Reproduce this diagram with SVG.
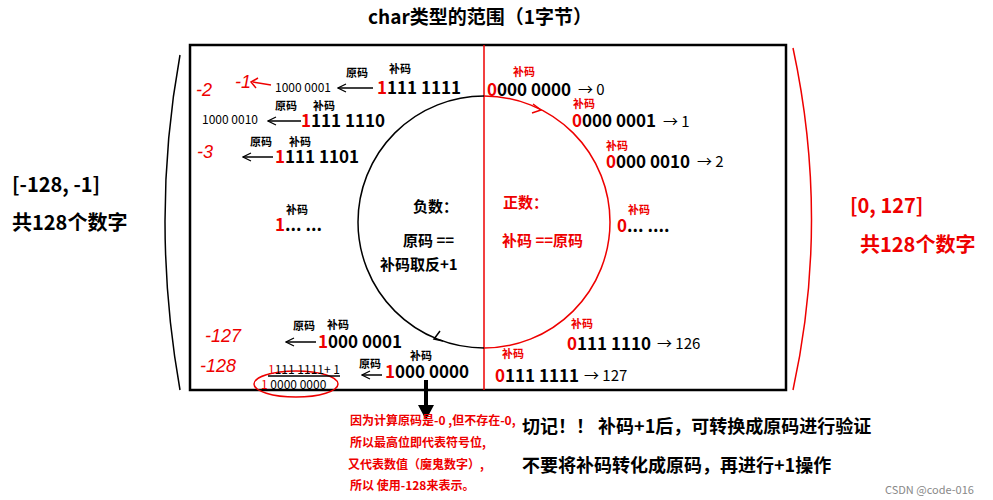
<svg xmlns="http://www.w3.org/2000/svg" width="993" height="500" viewBox="0 0 993 500">
<defs>
<style>
text{font-family:"Microsoft YaHei","Noto Sans CJK SC","Liberation Sans",sans-serif;font-weight:bold}
.b{fill:#000}.r{fill:#e00}
.s{font-size:11px}.m{font-size:12px}.n{font-size:17px}.h{font-family:"Liberation Sans",sans-serif;font-weight:normal;font-style:italic;font-size:18px}
.la{stroke:#000;stroke-width:1.5;fill:none}
.lr{stroke:#e00;stroke-width:1.5;fill:none}
</style>
<marker id="ah" markerWidth="10" markerHeight="10" refX="9" refY="5" orient="auto" markerUnits="userSpaceOnUse"><path d="M1,1 L9,5 L1,9" fill="none" stroke="#000" stroke-width="1.2"/></marker>
</defs>
<rect width="993" height="500" fill="#fff"/>
<text x="480" y="24" text-anchor="middle" class="b" font-size="19">char类型的范围（1字节）</text>
<g id="frame">
<rect x="190" y="45" width="596" height="345" fill="none" stroke="#000" stroke-width="2.5"/>
<line x1="484" y1="45" x2="484" y2="390" stroke="#e00" stroke-width="1.5"/>
<path d="M484,96 A126,126 0 0 0 484,348" class="la" stroke-width="2"/>
<path d="M484,96 A126,126 0 0 1 484,348" class="lr" stroke-width="2"/>
</g>
<g id="brackets">
<path d="M180,55 Q150,220 180,390" class="la" stroke-width="2"/>
<path d="M793,48 Q830,220 793,390" class="lr" stroke-width="2"/>
</g>
<g id="left-label">
<text x="12" y="192" class="b" font-size="20">[-128, -1]</text>
<text x="12" y="230" class="b" font-size="20">共128个数字</text>
</g>
<g id="right-label">
<text x="850" y="213" class="r" font-size="20">[0, 127]</text>
<text x="860" y="252" class="r" font-size="20">共128个数字</text>
</g>
<g id="center">
<text x="413" y="212" class="b" font-size="15">负数：</text>
<text x="403" y="246" class="b" font-size="15">原码 ==</text>
<text x="380" y="270" class="b" font-size="15">补码取反+1</text>
<text x="503" y="208" class="r" font-size="15">正数：</text>
<text x="502" y="246" class="r" font-size="15">补码 ==原码</text>
</g>
<g id="connectors">
<line x1="373" y1="88" x2="338" y2="88" class="la" marker-end="url(#ah)"/>
<line x1="301" y1="121" x2="268" y2="121" class="la" marker-end="url(#ah)"/>
<line x1="273" y1="157" x2="243" y2="157" class="la" marker-end="url(#ah)"/>
<line x1="271" y1="85" x2="253" y2="82" class="lr"/>
<path d="M258,78 L251,82 L256,88" class="lr"/>
<line x1="316" y1="342" x2="286" y2="342" class="la" marker-end="url(#ah)"/>
<line x1="382" y1="375" x2="362" y2="375" class="la" marker-end="url(#ah)"/>
<path d="M440,331 L434,339 L443,341" class="la"/>
<path d="M533,104 L541,110 L532,113" class="lr"/>
<path d="M424,380 L424,405 L418,405 L426,420 L434,405 L428,405 L428,380 Z" fill="#000"/>
<ellipse cx="296" cy="384" rx="42" ry="13" class="lr"/>
<line x1="268" y1="376" x2="340" y2="376" class="la" stroke-width="1"/>
</g>
<g id="neg-rows">
<text x="235" y="88" class="r h" font-size="16">-1</text>
<text x="275" y="92" class="b m" style="font-weight:normal">1000 0001</text>
<text x="346" y="77" class="b s">原码</text>
<text x="389" y="73" class="b s">补码</text>
<text x="377" y="94" class="n b"><tspan class="r">1</tspan>111 1111</text>
<text x="196" y="96" class="r h">-2</text>
<text x="202" y="124" class="b m" style="font-weight:normal">1000 0010</text>
<text x="275" y="110" class="b s">原码</text>
<text x="313" y="110" class="b s">补码</text>
<text x="301" y="127" class="n b"><tspan class="r">1</tspan>111 1110</text>
<text x="197" y="158" class="r h">-3</text>
<text x="250" y="146" class="b s">原码</text>
<text x="289" y="146" class="b s">补码</text>
<text x="275" y="163" class="n b"><tspan class="r">1</tspan>111 1101</text>
<text x="286" y="214" class="b s">补码</text>
<text x="275" y="231" class="n b"><tspan class="r">1</tspan>... ...</text>
<text x="205" y="342" class="r h" font-size="22">-127</text>
<text x="293" y="330" class="b s">原码</text>
<text x="327" y="329" class="b s">补码</text>
<text x="318" y="348" class="n b"><tspan class="r">1</tspan>000 0001</text>
<text x="200" y="372" class="r h">-128</text>
<text x="268" y="374" class="b m" style="font-weight:normal"><tspan class="r">1</tspan>111 1111+ 1</text>
<text x="261" y="389" class="b m" style="font-weight:normal"><tspan class="r">1</tspan> 0000 0000</text>
<text x="359" y="368" class="b s">原码</text>
<text x="410" y="360" class="b s">补码</text>
<text x="385" y="378" class="n b"><tspan class="r">1</tspan>000 0000</text>
</g>
<g id="pos-rows">
<text x="513" y="76" class="r s">补码</text>
<text x="487" y="96" class="n b"><tspan class="r">0</tspan>000 0000</text>
<text x="578" y="95" class="b" font-size="15" style="font-weight:normal">→ 0</text>
<text x="573" y="108" class="r s">补码</text>
<text x="572" y="127" class="n b"><tspan class="r">0</tspan>000 0001</text>
<text x="663" y="127" class="b" font-size="15" style="font-weight:normal">→ 1</text>
<text x="606" y="150" class="r s">补码</text>
<text x="606" y="168" class="n b"><tspan class="r">0</tspan>000 0010</text>
<text x="697" y="167" class="b" font-size="15" style="font-weight:normal">→ 2</text>
<text x="628" y="214" class="r s">补码</text>
<text x="617" y="232" class="n b"><tspan class="r">0</tspan>... ....</text>
<text x="571" y="328" class="r s">补码</text>
<text x="567" y="350" class="n b"><tspan class="r">0</tspan>111 1110</text>
<text x="657" y="349" class="b" font-size="15" style="font-weight:normal">→ 126</text>
<text x="502" y="358" class="r s">补码</text>
<text x="495" y="382" class="n b"><tspan class="r">0</tspan>111 1111</text>
<text x="584" y="381" class="b" font-size="15" style="font-weight:normal">→ 127</text>
</g>
<g id="notes">
<text x="350" y="425" class="r m">因为计算原码是-0 ,但不存在-0,</text>
<text x="350" y="447" class="r m">所以最高位即代表符号位,</text>
<text x="348" y="469" class="r m">又代表数值（魔鬼数字）,</text>
<text x="350" y="490" class="r m">所以 使用-128来表示。</text>
<text x="522" y="433" class="b" font-size="18">切记！！ 补码+1后，可转换成原码进行验证</text>
<text x="522" y="472" class="b" font-size="18">不要将补码转化成原码，再进行+1操作</text>
<text x="885" y="494" font-size="11" style="font-weight:normal;fill:#888">CSDN @code-016</text>
</g>
</svg>
